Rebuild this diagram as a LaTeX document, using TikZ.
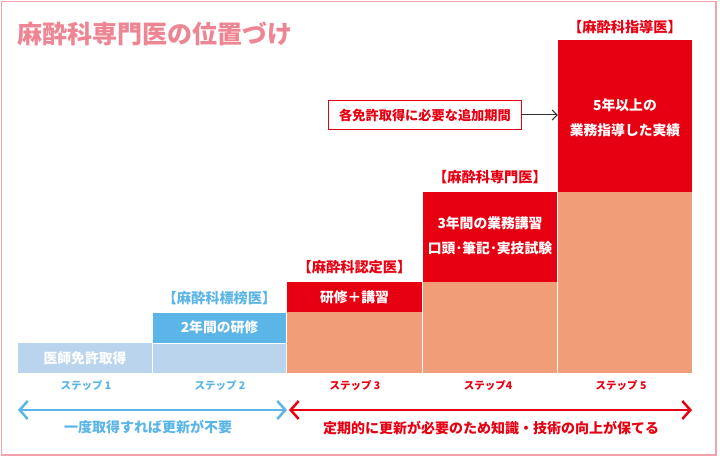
\documentclass[tikz,border=0pt]{standalone}
\usepackage{fontspec}
\setmainfont{Noto Sans CJK JP}
\usetikzlibrary{arrows.meta}
\definecolor{frame}{HTML}{F4A3AD}
\definecolor{ttl}{HTML}{EE8592}
\definecolor{jred}{HTML}{E60012}
\definecolor{salmon}{HTML}{F09D78}
\definecolor{lblue}{HTML}{BAD4EE}
\definecolor{mblue}{HTML}{5BB5E6}
\definecolor{dgray}{HTML}{333333}
\begin{document}
\begin{tikzpicture}[x=1pt,y=-1pt,
  box/.style={inner sep=0pt, draw=none, text=white, font=\fontsize{13.8}{25}\selectfont\bfseries, align=center},
  lab/.style={inner sep=0pt, font=\fontsize{14.2}{16}\selectfont\bfseries},
  steplab/.style={inner sep=0pt, font=\fontsize{10.5}{12}\selectfont\bfseries},
  bottomlab/.style={inner sep=0pt, font=\fontsize{14}{16}\selectfont\bfseries},
  bigarrow/.style={line width=2.5pt, {Straight Barb[length=8pt,width=18pt,line width=2.5pt]}-{Straight Barb[length=8pt,width=18pt,line width=2.5pt]}},
]
\useasboundingbox (0,0) rectangle (720,457);
\draw[frame, line width=1.5pt] (1.5,1.5) rectangle (716,455);
\node[anchor=west, inner sep=0pt, text=ttl, font=\fontsize{25}{28}\selectfont\bfseries] (title) at (17,33.5) {麻酔科専門医の位置づけ};

% column 1
\node[box, fill=lblue, minimum width=134pt, minimum height=30pt] (c1a) at (85,358) {医師免許取得};
% column 2
\node[box, fill=mblue, minimum width=133pt, minimum height=30pt] (c2b) at (219.5,327.5) {2年間の研修};
\node[box, fill=lblue, minimum width=133pt, minimum height=29.5pt] (c2a) at (219.5,358.25) {};
% column 3
\node[box, fill=jred, minimum width=135pt, minimum height=30pt] (c3b) at (354.5,297) {研修＋講習};
\node[box, fill=salmon, minimum width=135pt, minimum height=61pt] (c3a) at (354.5,342.5) {};
% column 4
\node[box, fill=jred, minimum width=134pt, minimum height=90pt] (c4b) at (490,237) {};
\node[box] at (490,235.5) {3年間の業務講習\\口頭･筆記･実技試験};
\node[box, fill=salmon, minimum width=134pt, minimum height=91pt] (c4a) at (490,327.5) {};
% column 5
\node[box, fill=jred, minimum width=134pt, minimum height=152pt] (c5b) at (625,116) {};
\node[box] at (625,117.5) {5年以上の\\業務指導した実績};
\node[box, fill=salmon, minimum width=134pt, minimum height=181pt] (c5a) at (625,282.5) {};

% bracket labels
\node[lab, text=mblue] (l2) at (219.5,298) {【麻酔科標榜医】};
\node[lab, text=jred] (l3) at (354.5,267) {【麻酔科認定医】};
\node[lab, text=jred] (l4) at (490,177) {【麻酔科専門医】};
\node[lab, text=jred] (l5) at (625,27) {【麻酔科指導医】};

% callout
\node[draw=jred, line width=1.3pt, text=jred, font=\fontsize{13.2}{15}\selectfont\bfseries, minimum width=193pt, minimum height=29pt, inner sep=0pt] (call) at (425,115) {各免許取得に必要な追加期間};
\draw[dgray, line width=1pt, -{Straight Barb[length=5pt,width=10pt]}] (call.east) -- (c5b.west |- call.east);

% step labels
\node[steplab, text=mblue] (s1) at (86,385) {ステップ 1};
\node[steplab, text=mblue] (s2) at (220,385) {ステップ 2};
\node[steplab, text=jred] (s3) at (355,385) {ステップ 3};
\node[steplab, text=jred] (s4) at (488,385) {ステップ4};
\node[steplab, text=jred] (s5) at (621,385) {ステップ 5};

% arrows
\coordinate (ba) at (18,410);
\coordinate (bb) at (287,410);
\coordinate (ra) at (289,410);
\coordinate (rb) at (692,410);
\draw[mblue, bigarrow] (ba) -- (bb);
\draw[jred, bigarrow] (ra) -- (rb);

\node[bottomlab, text=mblue] (t1) at (148,427.5) {一度取得すれば更新が不要};
\node[bottomlab, text=jred] (t2) at (491,428) {定期的に更新が必要のため知識・技術の向上が保てる};
\end{tikzpicture}
\end{document}
